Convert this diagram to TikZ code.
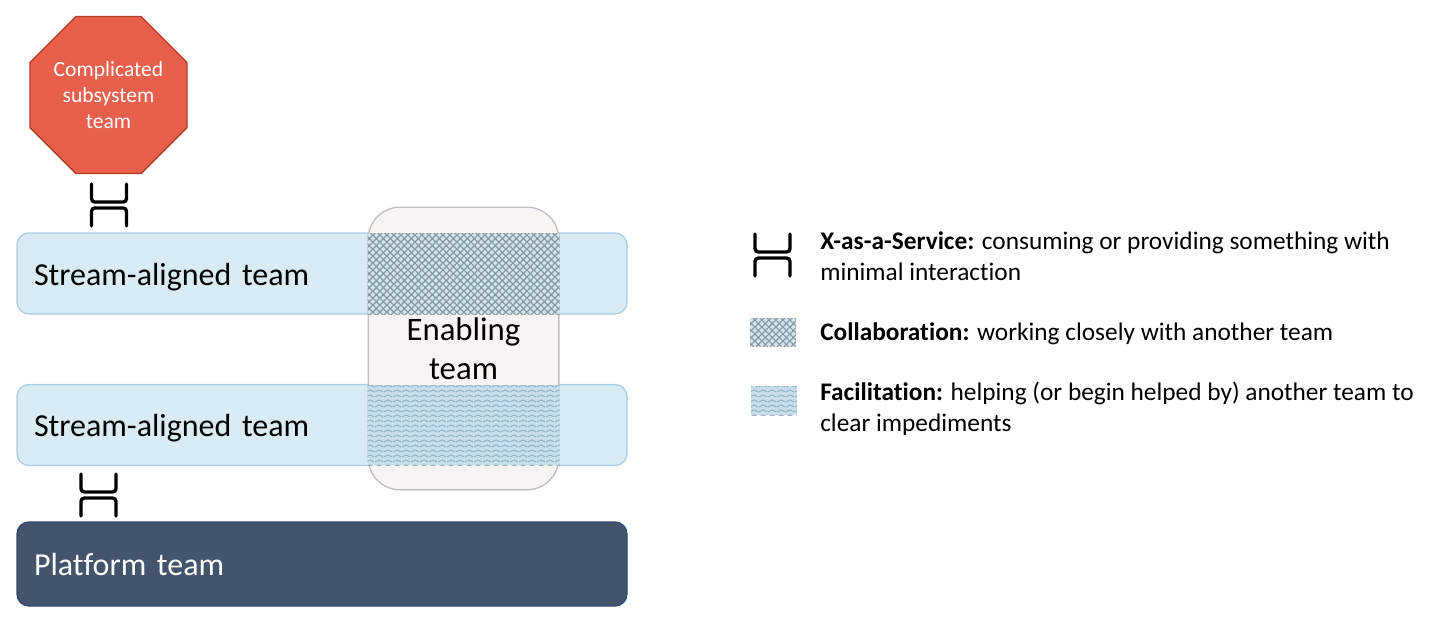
\documentclass[tikz,border=0pt]{standalone}
\usepackage{fontspec}
\setmainfont[Ligatures=CommonOff]{Carlito}
\usetikzlibrary{patterns, shapes.geometric}

\definecolor{streamfill}{HTML}{D9EBF3}
\definecolor{streamline}{HTML}{A9CCE8}
\definecolor{platformfill}{HTML}{44546A}
\definecolor{platformline}{HTML}{2F4A78}
\definecolor{subsystemfill}{HTML}{E8604C}
\definecolor{subsystemline}{HTML}{B53A28}
\definecolor{enablingfill}{HTML}{F7F4F1}
\definecolor{enablingline}{HTML}{BFBFBF}
\definecolor{hatchfill}{HTML}{CFE6EE}
\definecolor{hatchline}{HTML}{8A979F}
\definecolor{wavefill}{HTML}{C6DFEA}
\definecolor{waveline}{HTML}{8FB2C6}

\pgfdeclarepatternformonly{collabhatch}{\pgfpointorigin}{\pgfqpoint{5.5pt}{5.5pt}}{\pgfqpoint{5.5pt}{5.5pt}}{
  \pgfsetlinewidth{0.9pt}
  \pgfpathmoveto{\pgfqpoint{0pt}{0pt}}
  \pgfpathlineto{\pgfqpoint{5.5pt}{5.5pt}}
  \pgfpathmoveto{\pgfqpoint{0pt}{5.5pt}}
  \pgfpathlineto{\pgfqpoint{5.5pt}{0pt}}
  \pgfusepath{stroke}
}
\pgfdeclarepatternformonly{facilwave}{\pgfpointorigin}{\pgfqpoint{6.4pt}{3.4pt}}{\pgfqpoint{6.4pt}{3.4pt}}{
  \pgfsetlinewidth{0.8pt}
  \pgfpathmoveto{\pgfqpoint{0pt}{0.9pt}}
  \pgfpathcurveto{\pgfqpoint{1.6pt}{0.9pt}}{\pgfqpoint{1.6pt}{2.5pt}}{\pgfqpoint{3.2pt}{2.5pt}}
  \pgfpathcurveto{\pgfqpoint{4.8pt}{2.5pt}}{\pgfqpoint{4.8pt}{0.9pt}}{\pgfqpoint{6.4pt}{0.9pt}}
  \pgfusepath{stroke}
}

\begin{document}
\begin{tikzpicture}[
    x=0.75pt, y=-0.75pt,
    team/.style={draw=streamline, fill=streamfill, line width=1pt, rounded corners=9pt, align=left,
        inner sep=0pt, outer sep=0pt, minimum width=457.5pt, minimum height=60.75pt,
        text width=432pt, text height=22pt, text depth=4.6pt, font=\fontsize{24}{28}\selectfont},
    platform/.style={team, draw=platformline, fill=platformfill, text=white, minimum height=63pt},
    subsystem/.style={regular polygon, regular polygon sides=8, draw=subsystemline, fill=subsystemfill,
        line width=1pt, inner sep=0pt, outer sep=0pt, minimum size=127.5pt, text=white, align=center,
        font=\fontsize{16.2}{19.5}\selectfont},
    enabling/.style={draw=enablingline, fill=enablingfill, line width=1pt, rounded corners=24pt, align=center,
        inner sep=0pt, outer sep=0pt, minimum width=143pt, minimum height=212pt,
        font=\fontsize{24.6}{29}\selectfont},
    collab/.style={preaction={fill=hatchfill}, pattern=collabhatch, pattern color=hatchline,
        inner sep=0pt, outer sep=0pt},
    facil/.style={preaction={fill=wavefill}, pattern=facilwave, pattern color=waveline,
        inner sep=0pt, outer sep=0pt},
    legend/.style={anchor=west, align=left, inner sep=0pt, font=\fontsize{19}{23.25}\selectfont},
    xaas/.pic={
        \draw[line width=2.5pt, rounded corners=2.5pt, line cap=round]
            (-17.5,-21) -- (-17.5,-3) -- (17.5,-3) -- (17.5,-21);
        \draw[line width=2.5pt, rounded corners=2.5pt, line cap=round]
            (-17.5,21) -- (-17.5,3) -- (17.5,3) -- (17.5,21);
    }
]
\useasboundingbox (0,0) rectangle (1430,626);

\node[subsystem] (complicated) at (108.5,95) {Complicated\\subsystem\\team};

\node[team] (stream1) at (322,273.5) {Stream-aligned team};
\node[team] (stream2) at (322,425) {Stream-aligned team};
\node[platform] (platform) at (322,564) {Platform team};

\node[enabling] (enablingteam) at (463.5,348.5) {Enabling\\team};

\node[collab, minimum width=144pt, minimum height=60.75pt] (overlap1) at (463.5,273.5) {};
\node[facil, minimum width=144pt, minimum height=60pt] (overlap2) at (463.5,425) {};

\pic at (109,205) {xaas};
\pic at (98.5,495) {xaas};

% legend
\pic at (772.5,255) {xaas};
\node[collab, minimum width=34.5pt, minimum height=21pt] (keycollab) at (773,332) {};
\node[facil, minimum width=34.5pt, minimum height=21.75pt] (keyfacil) at (774,400.5) {};

\node[legend] (textxaas) at (820,256) {\textbf{X-as-a-Service:} consuming or providing something with\\minimal interaction};
\node[legend] (textcollab) at (820,334) {\textbf{Collaboration:} working closely with another team};
\node[legend] (textfacil) at (820,408.5) {\textbf{Facilitation:} helping (or begin helped by) another team to\\clear impediments};
\end{tikzpicture}
\end{document}
